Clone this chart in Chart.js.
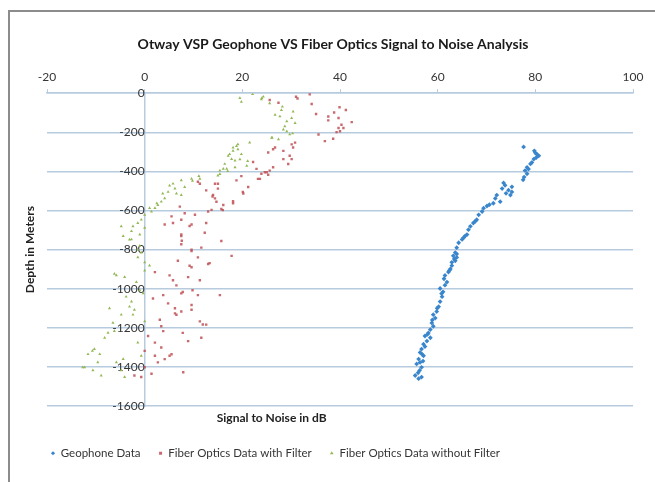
<!DOCTYPE html>
<html>
<head>
<meta charset="utf-8">
<script src="https://cdn.jsdelivr.net/npm/chart.js@4.4.1/dist/chart.umd.min.js"></script>
<style>
  html, body { margin: 0; padding: 0; background: #fff; }
  #frame {
    position: absolute; left: 8px; top: 10px;
    width: 647px; height: 472px;
    border-left: 2px solid #8c8c8c; border-top: 2px solid #8c8c8c;
  }
  #wrap { position: relative; width: 645px; height: 470px; }
</style>
</head>
<body>
<div id="frame"><div id="wrap"><canvas id="snrChart"></canvas></div></div>
<script>
const chartTitle = "Otway VSP Geophone VS Fiber Optics Signal to Noise Analysis";
const xTitle = "Signal to Noise in dB";
const yTitle = "Depth in Meters";
const seriesNames = ["Geophone Data", "Fiber Optics Data with Filter", "Fiber Optics Data without Filter"];

// Geophone
const geoSnr = [77.6, 79.8, 80.3, 80.7, 80.2, 79.7, 79.3, 79.0, 78.3, 77.9, 78.3, 77.7, 77.5,
  73.5, 73.8, 75.2, 73.2, 74.5, 75.2, 74.9, 72.1, 71.8, 72.8, 71.4, 70.1, 69.4, 69.1, 68.4,
  68.0, 67.3, 66.7, 66.3, 66.0, 65.3, 65.0, 64.3, 63.9, 63.6, 63.2, 62.9, 62.6, 63.9, 63.9,
  63.6, 62.9, 62.2, 61.5, 61.3, 61.9, 61.5, 60.5, 61.1, 60.9, 60.5, 60.2, 59.8, 59.1, 59.5,
  58.8, 59.1, 58.5, 58.1, 57.4, 58.5, 57.8, 57.1, 56.7, 56.4, 57.1, 56.1, 56.4, 55.7, 56.7,
  56.3, 55.4, 56.1, 56.7, 80.0, 78.6, 74.0, 70.6, 67.7, 65.6, 63.4, 62.4, 60.8, 59.9, 58.9,
  57.9, 57.4, 56.8, 56.0, 57.0];
const geoDepth = [-275, -295, -312, -320, -329, -337, -354, -362, -379, -396, -412, -429, -443,
  -459, -471, -479, -488, -496, -505, -521, -521, -538, -555, -563, -577, -588, -605, -622,
  -647, -664, -681, -698, -723, -739, -748, -765, -790, -815, -832, -865, -899, -823, -840,
  -857, -882, -915, -932, -949, -966, -982, -999, -1016, -1041, -1066, -1092, -1117, -1133, -1150,
  -1175, -1192, -1209, -1226, -1242, -1251, -1268, -1284, -1309, -1326, -1343, -1360, -1377, -1385, -1402,
  -1418, -1444, -1460, -1452, -305, -388, -512, -570, -655, -731, -848, -907, -1025, -1100, -1160,
  -1234, -1296, -1335, -1430, -1370];

// Fiber optics with filter
const filterSnr = [25.6, 27.4, 31.0, 31.3, 33.8, 34.2, 35.1, 37.6, 37.6, 38.8, 39.9, 41.2, 39.7,
  40.3, 39.7, 40.7, 42.4, 39.3, 40.0, 35.6, 36.9, 38.6, 30.8, 30.1, 30.4, 26.7, 26.3, 25.3, 28.4,
  29.7, 30.1, 28.4, 29.4, 26.3, 25.6, 25.0, 22.9, 23.9, 25.3, 23.6, 19.8, 18.8, 21.2, 15.0, 15.0,
  20.2, 14.0, 14.4, 14.7, 18.1, 16.1, 15.7, 13.7,
  11.3, 12.6, 13.9, 7.2, 5.5, 8.2, 10.3, 13.0, 5.8, 7.5, 9.6, 12.6, 4.1, 7.5, 12.3,
  7.5, 7.5, 9.6, 11.6, 10.9, 6.8, 13.0, 2.1, 5.1, 5.8, 6.5, 9.6, 8.9, 11.3, 7.5, 3.8, 1.7, 4.8,
  6.2, 6.5, 3.1, 3.4, 3.8, 7.5, 9.6, 11.3, 12.6, 0.7, 2.1, 3.4, 5.5, 0, 0, 2.7, 4.1, 2.1, -0.7,
  -2.1, 1.4, 7.9, 8.9, 11.6,
  15.7, 17.8, 13.3, 15.4, 11.9, 20.1, 23.2, 24.6, 22.2, 18.1, 16.0, 14.4, 10.9, 7.6, 9.2, 9.6,
  9.2, 7.8, 10.9, 9.8, 9.6, 6.2, 7.8, 5.1];
const filterDepth = [-35, -49, -18, -27, -5, -55, -106, -119, -139, -99, -72, -86, -127,
  -161, -178, -178, -148, -199, -195, -211, -245, -233, -253, -262, -278, -278, -287, -303, -295,
  -320, -337, -337, -362, -379, -396, -404, -387, -412, -417, -438, -424, -446, -480, -463, -488,
  -513, -521, -538, -555, -563, -572, -592, -597,
  -463, -497, -528, -580, -630, -614, -622, -605, -664, -647, -672, -664, -672, -723, -714,
  -731, -773, -807, -790, -840, -857, -874, -915, -932, -957, -983, -890, -941, -957, -1024, -1033, -1050, -1075,
  -1100, -1133, -1159, -1192, -1217, -1117, -1108, -1167, -1184, -1242, -1276, -1301, -1335, -1318, -1402, -1377, -1360, -1343, -1452,
  -1444, -1435, -1427, -1268, -1251,
  -756, -832, -869, -1033, -1183, -505, -438, -404, -352, -553, -598, -463, -453, -755, -679, -800,
  -883, -1017, -1033, -1008, -1083, -1126, -1226, -1343];

// Fiber optics without filter
const noFilterSnr = [19.8, 22.1, 24.3, 23.9, 25.6, 28.2, 28.0, 26.7, 27.7, 30.4, 30.1, 29.1, 30.8,
  28.7, 28.4, 29.1, 29.7, 30.3, 26.0, 27.4, 21.5, 18.8, 19.1, 18.1, 17.4, 19.8, 17.1, 17.8, 18.5,
  16.4, 16.1, 15.4, 16.8, 15.0, 20.9, 18.5,
  11.1, 9.6, 7.5, 5.8, 8.2, 6.2, 6.5, 7.5, 4.8, 4.1, 3.4, 2.7, 2.1, 1.4, 0, -0.7, -1.4, -2.4, 0,
  -2.7, -1.0, -4.8,
  -4.4, -2.7, -1.0, -0.7, -1.4, 0, 1.0, 0, -6.2, -4.1, -5.8, -1.7, -1.0, -0.3, -3.8, -2.7, -3.1,
  -2.1, -2.4, -4.8, -6.5, -7.5, -6.2, -8.2, -10.3, -9.2, -11.6, -12.3, -10.6, -8.9, -5.8, -4.4,
  -4.8, -0.7, -4.1, -9.6, -7.2, 0, -1.4,
  9.8, 11.3, 15.4, 17.0, 18.1, 19.1, 19.5, 21.1, 19.5, 24.0, 26.1, 5.1, 3.7, 2.5, 1.0, -3.1, -1.4,
  -12.7, -10.7];
const noFilterDepth = [-44, -5, -18, -32, -52, -69, -86, -111, -119, -94, -127, -144, -153,
  -169, -186, -195, -211, -206, -228, -236, -253, -270, -287, -295, -312, -312, -320, -337, -345,
  -362, -387, -396, -387, -421, -371, -379,
  -424, -438, -446, -463, -480, -488, -513, -521, -505, -538, -555, -572, -588, -605, -622, -647, -664, -681, -689,
  -706, -723, -681,
  -731, -748, -781, -815, -840, -865, -882, -907, -924, -941, -932, -966, -1008, -1024, -1041, -1066, -1092,
  -1108, -1133, -1133, -1175, -1226, -1217, -1251, -1309, -1335, -1335, -1402, -1418, -1444, -1377, -1360,
  -1418, -1343, -1452, -1377, -1100, -1167, -1276,
  -448, -438, -414, -398, -278, -262, -338, -347, -25, -25, -227, -473, -513, -563, -588, -749, -800,
  -1402, -1318];

const gridColor = "#b7cbdf";
const textColor = "#353535";

function toPoints(xs, ys) {
  return xs.map((x, i) => ({ x: x, y: ys[i] }));
}

// draws the two axis titles where the original had them
const axisTitles = {
  id: "axisTitles",
  afterDraw(chart) {
    const { ctx, chartArea, scales } = chart;
    ctx.save();
    ctx.fillStyle = "#222";
    ctx.font = "bold 12px Lato";
    ctx.textAlign = "center";
    ctx.textBaseline = "middle";
    ctx.fillText(xTitle, scales.x.getPixelForValue(26), chartArea.bottom + 12);
    ctx.translate(chartArea.left - 17, (chartArea.top + chartArea.bottom) / 2);
    ctx.rotate(-Math.PI / 2);
    ctx.fillText(yTitle, 0, 0);
    ctx.restore();
  }
};

Chart.defaults.font.family = "Lato, 'Open Sans', sans-serif";
Chart.defaults.color = textColor;

const ctx = document.getElementById("snrChart").getContext("2d");

new Chart(ctx, {
  type: "scatter",
  data: {
    datasets: [{
      label: seriesNames[0],
      data: toPoints(geoSnr, geoDepth),
      pointStyle: "rectRot",
      pointRadius: 2.4,
      backgroundColor: "#3a86cc",
      borderColor: "#3a86cc",
      borderWidth: 0
    }, {
      label: seriesNames[1],
      data: toPoints(filterSnr, filterDepth),
      pointStyle: "rect",
      pointRadius: 1.7,
      backgroundColor: "rgba(190, 80, 85, 0.85)",
      borderColor: "rgba(190, 80, 85, 0.85)",
      borderWidth: 0
    }, {
      label: seriesNames[2],
      data: toPoints(noFilterSnr, noFilterDepth),
      pointStyle: "triangle",
      pointRadius: 1.8,
      backgroundColor: "#93b957",
      borderColor: "#93b957",
      borderWidth: 0
    }]
  },
  options: {
    responsive: true,
    maintainAspectRatio: false,
    animation: false,
    layout: { padding: { left: 23, right: 22, top: 0, bottom: 13 } },
    plugins: {
      title: {
        display: true,
        text: chartTitle,
        color: "#1a1a1a",
        font: { size: 14, weight: "bold" },
        padding: { top: 24, bottom: 12 }
      },
      legend: {
        position: "bottom",
        align: "start",
        labels: {
          usePointStyle: true,
          boxWidth: 4,
          boxHeight: 3,
          padding: 18,
          color: textColor,
          font: { size: 11.5 }
        }
      },
      tooltip: { enabled: false }
    },
    scales: {
      x: {
        type: "linear",
        position: "top",
        min: -20,
        max: 100,
        ticks: { stepSize: 20, padding: 5, color: textColor, font: { size: 12 } },
        grid: { drawOnChartArea: false, tickLength: 4, color: gridColor },
        border: { color: gridColor, width: 1.5 }
      },
      y: {
        type: "linear",
        position: { x: 0 },
        min: -1600,
        max: 0,
        ticks: {
          stepSize: 200,
          padding: 12,
          color: textColor,
          font: { size: 12 },
          format: { useGrouping: false }
        },
        grid: { color: gridColor, lineWidth: 1.5, drawTicks: false },
        border: { color: gridColor, width: 1.5 },
        afterFit(scale) { scale.width = 0; }
      },
      yPad: {
        type: "linear",
        position: "left",
        ticks: { display: false },
        grid: { display: false, drawTicks: false },
        border: { display: false },
        afterFit(scale) { scale.width = 14; }
      },
      xPad: {
        type: "linear",
        position: "bottom",
        ticks: { display: false },
        grid: { display: false, drawTicks: false },
        border: { display: false },
        afterFit(scale) { scale.height = 23.5; }
      }
    }
  },
  plugins: [axisTitles]
});
</script>
</body>
</html>
